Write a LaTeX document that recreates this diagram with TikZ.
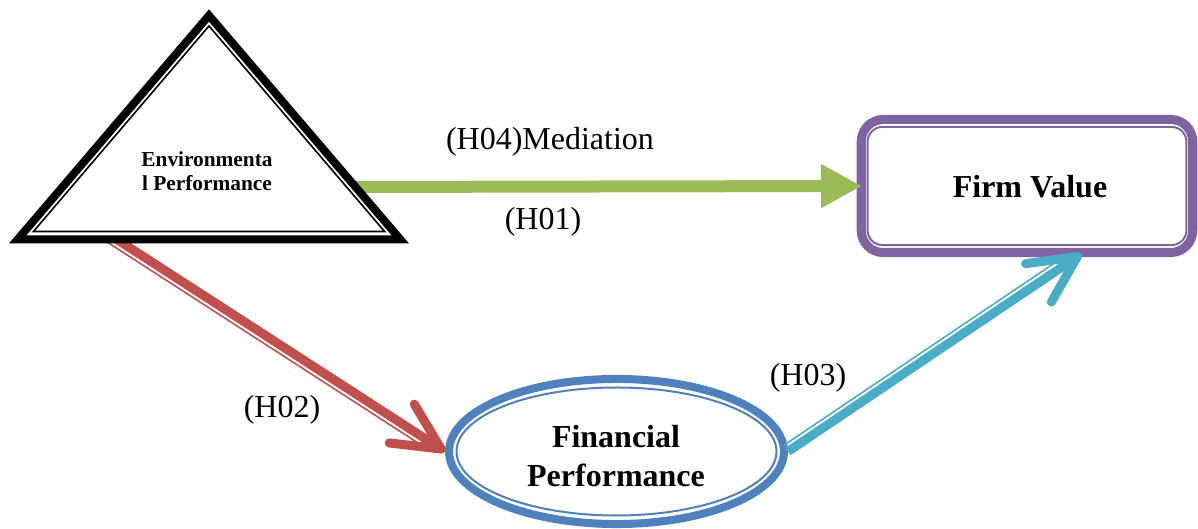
\documentclass[tikz,border=0pt]{standalone}
\usepackage{fontspec}
\setmainfont{Liberation Serif}
\usetikzlibrary{arrows.meta,shapes.geometric,calc}
\definecolor{fvpurple}{HTML}{8064A2}
\definecolor{fpblue}{HTML}{4F81BD}
\definecolor{hgreen}{HTML}{9BBB59}
\definecolor{hred}{HTML}{C0504D}
\definecolor{hcyan}{HTML}{4BACC6}

\begin{document}
\begin{tikzpicture}[x=0.375pt,y=-0.375pt]
  \tikzset{hyp/.style = {font=\fontsize{12}{14.5}\selectfont, inner sep=1pt},
    thickband/.style = {draw, line width=3.4pt},
    thinband/.style = {draw, line width=0.75pt},
    barb/.style = {line width=3.4pt, -{Straight Barb[round,length=17.6pt,width=17.3pt]}}}
  \useasboundingbox (0,0) rectangle (1198,529);
  \coordinate (envR) at (349,187);
  \coordinate (envB) at (110,235);
  % firm value
  \node[thickband, fvpurple, text=black, rectangle, rounded corners=8.25pt, minimum width=124.3pt, minimum height=49.9pt] (fv) at (1027,186) {};
  \node[thinband, fvpurple, rectangle, rounded corners=5.6pt, minimum width=119.6pt, minimum height=44.3pt] (fvin) at (fv.center) {};
  \node[font=\fontsize{12}{14.5}\selectfont\bfseries] (fvtext) at (1030,187) {Firm Value};
  % financial performance
  \node[thickband, fpblue, ellipse, line width=3pt, inner sep=0pt, minimum width=125.6pt, minimum height=54.4pt] (fp) at (616.5,451.5) {};
  \node[thinband, fpblue, ellipse, inner sep=0pt, minimum width=120pt, minimum height=48pt] (fpin) at (fp.center) {};
  \node[font=\fontsize{12}{14.3}\selectfont\bfseries, align=center] (fptext) at (616,456) {Financial\\Performance};
  % hypotheses
  \draw[hgreen, line width=4.5pt, -{Triangle[length=15.4pt,width=15.4pt]}, shorten >=-2pt] (envR) -- (fv.west);
  \draw[hred, barb] (envB) -- (fp.west);
  \draw[hred, line width=0.6pt, shorten >=5pt] ($(envB)!2.8pt!-90:(fp.west)$) -- ($(fp.west)!2.8pt!90:(envB)$);
  \draw[hcyan, barb, shorten >=-2pt] (fp.east) -- (fv.-55);
  \draw[hcyan, line width=0.6pt, shorten >=4pt] ($(fp.east)!2.8pt!90:(fv.-55)$) -- ($(fv.-55)!2.8pt!-90:(fp.east)$);
  % environmental performance
  \draw[line width=3pt, fill=white] (209,15.5) -- (17.6,239.5) -- (400.4,239.5) -- cycle;
  \draw[line width=0.6pt] (209,26) -- (33.4,231.5) -- (384.6,231.5) -- cycle;
  \node[font=\fontsize{8}{8.8}\selectfont\bfseries, align=center] (env) at (207,171) {Environmenta\\l Performance};
  \node[hyp] (h04) at (550,142) {(H04)Mediation};
  \node[hyp] (h01) at (543,222) {(H01)};
  \node[hyp] (h02) at (282,410) {(H02)};
  \node[hyp] (h03) at (808,378) {(H03)};
\end{tikzpicture}
\end{document}
